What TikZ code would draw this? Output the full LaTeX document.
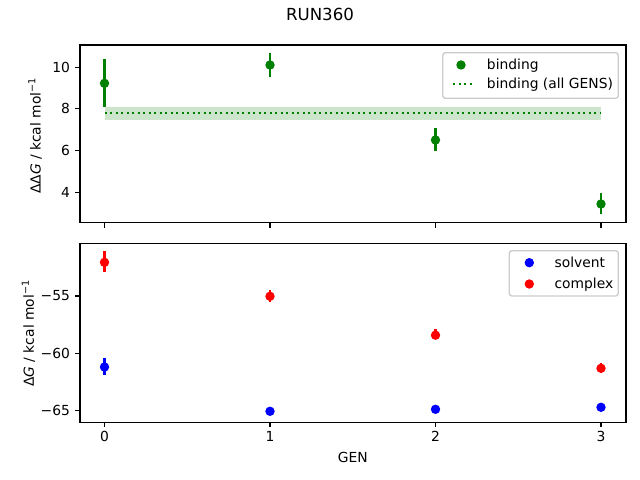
\documentclass[tikz,border=0pt]{standalone}
\usepackage{fontspec}
\setmainfont{DejaVu Sans}
\definecolor{mplgreen}{RGB}{0,128,0}
\definecolor{mplblue}{RGB}{0,0,255}
\definecolor{mplred}{RGB}{255,0,0}
\definecolor{legedge}{RGB}{204,204,204}
\begin{document}
\begin{tikzpicture}[x=0.01in,y=-0.01in,
  spine/.style={line width=0.8pt,black},
  tickmark/.style={line width=0.8pt,black},
  ticklab/.style={font=\fontsize{10}{12}\selectfont,inner sep=0pt},
  xlab/.style={ticklab,anchor=base},
  ylab/.style={ticklab,anchor=east},
  dot/.style={circle,inner sep=0pt,minimum size=6.8pt,draw=none,fill=#1},
  errbar/.style={line width=1.5pt,draw=#1},
  legbox/.style={draw=legedge,line width=1pt,fill=white,fill opacity=0.8,rounded corners=2pt},
  legtext/.style={font=\fontsize{10}{12}\selectfont,inner sep=0pt,anchor=base west},
  mean/.style={line width=1.5pt,mplgreen,dash pattern=on 1.5pt off 2.475pt}
]
\useasboundingbox (0,0) rectangle (640,480);
% ---------- title ----------
\node[font=\fontsize{12}{14}\selectfont,inner sep=0pt,anchor=base] (title) at (320,20.7) {RUN360};

% ---------- top panel ----------
\fill[mplgreen!20] (104.5,107.3) rectangle (601,120);
\coordinate (m0) at (104.5,113);
\coordinate (m1) at (601,113);
\draw[mean] (m0) -- (m1);

\coordinate (t0a) at (104.5,59.3);  \coordinate (t0b) at (104.5,106.7);
\coordinate (t1a) at (270,53.3);    \coordinate (t1b) at (270,76.7);
\coordinate (t2a) at (435.5,128.3); \coordinate (t2b) at (435.5,150.7);
\coordinate (t3a) at (601,193.3);   \coordinate (t3b) at (601,214.3);
\foreach \i in {0,1,2,3} {\draw[errbar=mplgreen] (t\i a) -- (t\i b);}
\node[dot=mplgreen] (b0) at (104.5,83.3) {};
\node[dot=mplgreen] (b1) at (270,65) {};
\node[dot=mplgreen] (b2) at (435.5,140) {};
\node[dot=mplgreen] (b3) at (601,204) {};

\draw[spine] (80,45) rectangle (626,222.7);
\foreach \x in {104.5,270,435.5,601} {\draw[tickmark] (\x,222.7) -- (\x,227.6);}
\foreach \y/\l in {67.3/10,108.9/8,150.6/6,192.3/4} {
  \draw[tickmark] (80,\y) -- (75.1,\y);
  \node[ylab] at (70.2,\y) {\l};
}
\node[ticklab,rotate=90,anchor=base] (ylt) at (40.5,135.8) {ΔΔ\textit{G} / kcal mol\textsuperscript{−1}};

% top legend
\draw[legbox] (442.7,52.7) rectangle (618.3,98.3);
\node[dot=mplgreen] (lb) at (461,65) {};
\node[legtext] (lbt) at (486.7,69.5) {binding};
\coordinate (ll0) at (453.3,84.3);
\coordinate (ll1) at (475,84.3);
\draw[mean] (ll0) -- (ll1);
\node[legtext] (llt) at (486.7,88.8) {binding (all GENS)};

% ---------- bottom panel ----------
\coordinate (r0a) at (104.5,251);   \coordinate (r0b) at (104.5,271.7);
\coordinate (r1a) at (270,290);     \coordinate (r1b) at (270,301.7);
\coordinate (r2a) at (435.5,329);   \coordinate (r2b) at (435.5,339.5);
\coordinate (r3a) at (601,362.7);   \coordinate (r3b) at (601,373.3);
\coordinate (s0a) at (104.5,357.7); \coordinate (s0b) at (104.5,375);
\coordinate (s1a) at (270,409.5);   \coordinate (s1b) at (270,413);
\coordinate (s2a) at (435.5,407.5); \coordinate (s2b) at (435.5,411);
\coordinate (s3a) at (601,405.3);   \coordinate (s3b) at (601,409);
\foreach \i in {0,1,2,3} {\draw[errbar=mplblue] (s\i a) -- (s\i b);}
\foreach \i in {0,1,2,3} {\draw[errbar=mplred] (r\i a) -- (r\i b);}
\node[dot=mplblue] (s0) at (104.5,367) {};
\node[dot=mplblue] (s1) at (270,411.3) {};
\node[dot=mplblue] (s2) at (435.5,409.3) {};
\node[dot=mplblue] (s3) at (601,407.3) {};
\node[dot=mplred] (c0) at (104.5,262.3) {};
\node[dot=mplred] (c1) at (270,296.3) {};
\node[dot=mplred] (c2) at (435.5,335.2) {};
\node[dot=mplred] (c3) at (601,368.3) {};

\draw[spine] (80,243.3) rectangle (626,422.3);
\foreach \x/\l in {104.5/0,270/1,435.5/2,601/3} {
  \draw[tickmark] (\x,422.3) -- (\x,427.2);
  \node[xlab] at (\x,441.7) {\l};
}
\foreach \y/\l in {296/−55,353.35/−60,410.7/−65} {
  \draw[tickmark] (80,\y) -- (75.1,\y);
  \node[ylab] at (70.2,\y) {\l};
}
\node[ticklab,rotate=90,anchor=base] (ylb) at (34,333.3) {Δ\textit{G} / kcal mol\textsuperscript{−1}};
\node[ticklab,anchor=base] (xl) at (352.7,462.7) {GEN};

% bottom legend
\draw[legbox] (509.3,250.7) rectangle (618.3,296);
\node[dot=mplblue] (ls) at (529.3,262.7) {};
\node[legtext] (lst) at (554.3,267.3) {solvent};
\node[dot=mplred] (lc) at (529.3,284) {};
\node[legtext] (lct) at (554.3,288.6) {complex};
\end{tikzpicture}
\end{document}
